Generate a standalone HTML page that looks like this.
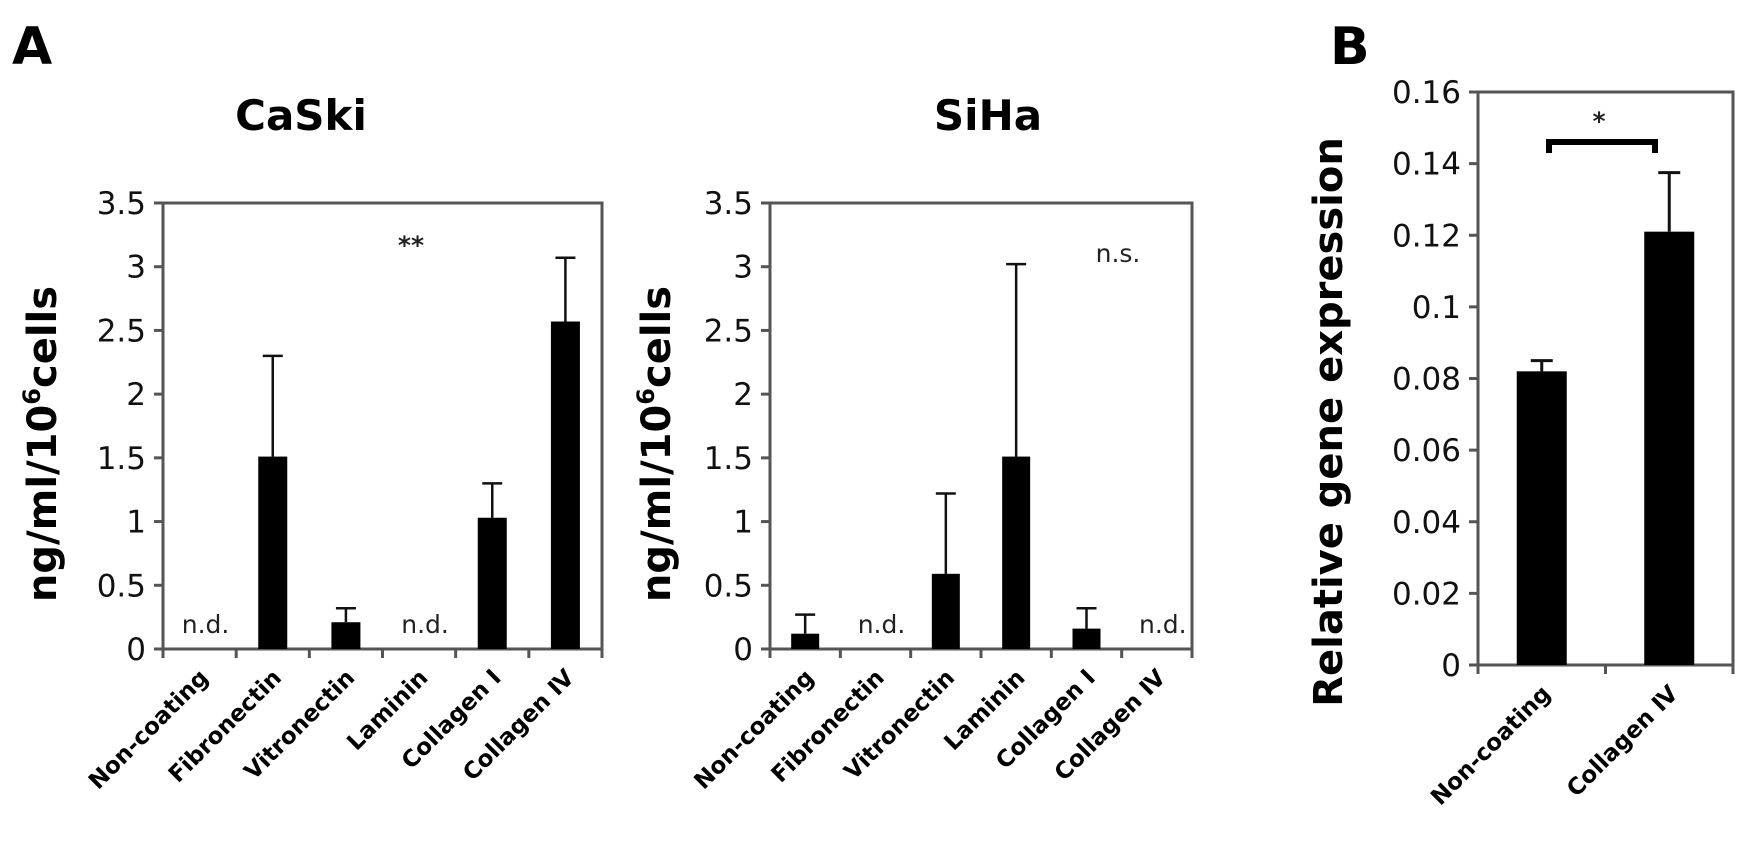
<!DOCTYPE html>
<html><head><meta charset="utf-8"><style>
html,body{margin:0;padding:0;background:#fff;width:1744px;height:842px;overflow:hidden}
svg{display:block}
.tick{font-family:"DejaVu Sans","Liberation Sans",sans-serif;font-size:31px;fill:#111}
.xl{font-family:"DejaVu Sans","Liberation Sans",sans-serif;font-weight:bold;font-size:23px;fill:#000}
.ann{font-family:"DejaVu Sans","Liberation Sans",sans-serif;font-size:25px;fill:#222}
.ttl{font-family:"DejaVu Sans","Liberation Sans",sans-serif;font-weight:bold;fill:#000}
</style></head><body>
<svg id="fig" width="1744" height="842" viewBox="0 0 1744 842" xmlns="http://www.w3.org/2000/svg">
<text class="ttl" x="12" y="64" font-size="52" font-family="Liberation Sans">A</text>
<text class="ttl" x="1330" y="64" font-size="52" font-family="Liberation Sans">B</text>
<text class="ttl" x="301" y="130" font-size="42" text-anchor="middle">CaSki</text>
<text class="ttl" x="988" y="130" font-size="42" text-anchor="middle">SiHa</text>
<text class="ttl" font-size="40" text-anchor="middle" transform="translate(56,444) rotate(-90)">ng/ml/10<tspan font-size="24" dy="-16">6</tspan><tspan dy="16">cells</tspan></text>
<text class="ttl" font-size="40" text-anchor="middle" transform="translate(670,444) rotate(-90)">ng/ml/10<tspan font-size="24" dy="-16">6</tspan><tspan dy="16">cells</tspan></text>
<text class="ttl" font-size="40" text-anchor="middle" transform="translate(1342,422) rotate(-90)">Relative gene expression</text>
<text class="ann" x="411" y="254" text-anchor="middle" font-weight="bold">**</text>
<text class="ann" x="1118" y="262" text-anchor="middle">n.s.</text>
<text class="ann" x="1599" y="130" text-anchor="middle" font-weight="bold">*</text>
<path d="M1549,153 V142 H1655 V153" fill="none" stroke="#000" stroke-width="6"/>
</svg>
<script>
const caskiCategories = ["Non-coating","Fibronectin","Vitronectin","Laminin","Collagen \u2160","Collagen \u2163"];
const caskiValues = [null,1.51,0.21,null,1.03,2.57];
const caskiErrors = [null,2.30,0.32,null,1.30,3.07];
const sihaCategories = ["Non-coating","Fibronectin","Vitronectin","Laminin","Collagen \u2160","Collagen \u2163"];
const sihaValues = [0.12,null,0.59,1.51,0.16,null];
const sihaErrors = [0.27,null,1.22,3.02,0.32,null];
const aTicks = ["0","0.5","1","1.5","2","2.5","3","3.5"];
const bCategories = ["Non-coating","Collagen \u2163"];
const bValues = [0.082,0.121];
const bErrors = [0.085,0.1375];
const bTicks = ["0","0.02","0.04","0.06","0.08","0.1","0.12","0.14","0.16"];

const NS="http://www.w3.org/2000/svg";
const svg=document.getElementById('fig');
function mk(tag,attrs){const e=document.createElementNS(NS,tag);for(const k in attrs)e.setAttribute(k,attrs[k]);svg.appendChild(e);return e;}

function panel(p){
  const {x0,x1,yTop,yBot,max,ticks,cats,vals,errs,barW,capW,id,ndY}=p;
  const n=cats.length, band=(x1-x0)/n;
  const xs=i=>x0+band*(i+0.5);
  const ys=v=>yBot-(v/max)*(yBot-yTop);
  const frame=mk('path',{d:`M${x0},${yBot} V${yTop} H${x1} V${yBot} Z`,fill:'none',stroke:'#555','stroke-width':3});
  
  
  ticks.forEach(t=>{
    const v=parseFloat(t),y=ys(v);
    const l=mk('line',{x1:x0-9,x2:x0,y1:y,y2:y,stroke:'#555','stroke-width':3});
    
    
    const tx=mk('text',{x:x0-17,y:y+11,'text-anchor':'end',class:'tick'});
    tx.textContent=t;
    
    
  });
  for(let i=0;i<=n;i++){
    const x=x0+band*i;
    const l=mk('line',{x1:x,x2:x,y1:yBot,y2:yBot+9,stroke:'#555','stroke-width':3});
    
    
  }
  cats.forEach((c,i)=>{
    const cx=xs(i);
    const lab=mk('text',{class:'xl','text-anchor':'end',transform:`translate(${cx+10},${yBot+30}) rotate(-45)`});
    lab.textContent=c;
    
    
    if(vals[i]==null){
      const nd=mk('text',{x:cx+6,y:ndY,'text-anchor':'middle',class:'ann'});
      nd.textContent='n.d.';
      
      
      return;
    }
    const yv=ys(vals[i]), ye=ys(errs[i]);
    const e=mk('path',{d:`M${cx},${yv} V${ye} M${cx-capW/2},${ye} H${cx+capW/2}`,stroke:'#111','stroke-width':p.ew,fill:'none'});
    
    
    const r=mk('rect',{x:cx-barW/2,y:yv,width:barW,height:yBot-yv,fill:'#000'});
    
    
  });
}
panel({id:'caski',x0:163,x1:602,yTop:203,yBot:649,max:3.5,ticks:aTicks,cats:caskiCategories,vals:caskiValues,errs:caskiErrors,barW:29,capW:20,ew:2.5,ndY:633});
panel({id:'siha',x0:770,x1:1192,yTop:203,yBot:649,max:3.5,ticks:aTicks,cats:sihaCategories,vals:sihaValues,errs:sihaErrors,barW:28,capW:20,ew:2.5,ndY:633});
panel({id:'b',x0:1478,x1:1733,yTop:92,yBot:665,max:0.16,ticks:bTicks,cats:bCategories,vals:bValues,errs:bErrors,barW:50,capW:22,ew:3,ndY:640});
</script>
</body></html>
